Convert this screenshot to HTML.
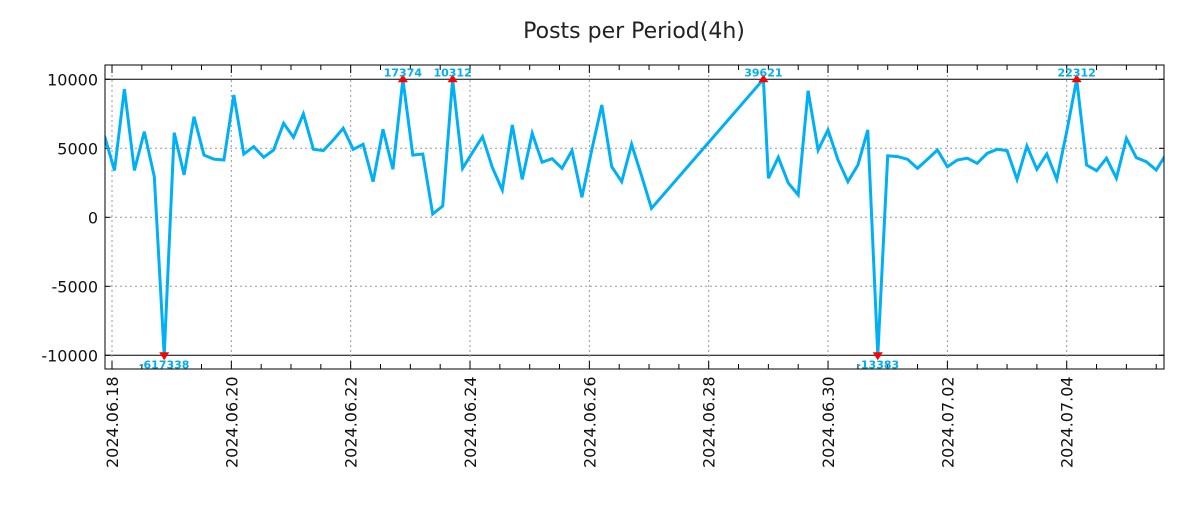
<!DOCTYPE html>
<html><head><meta charset="utf-8"><style>
body{margin:0;background:#fff;width:1200px;height:500px;overflow:hidden}
svg text{font-family:"DejaVu Sans","Liberation Sans",sans-serif}
</style></head><body>
<svg id="chart" width="1200" height="500" xmlns="http://www.w3.org/2000/svg">
<text x="634" y="38" text-anchor="middle" font-size="22" fill="#222">Posts per Period(4h)</text>
<defs><clipPath id="pc"><rect x="105" y="65" width="1059" height="304"/></clipPath></defs>
<g id="grid"></g><g id="axes"></g>
<g id="series" clip-path="url(#pc)"></g>
<g id="marks"></g>
<rect x="105" y="65" width="1059" height="304" fill="none" stroke="#000" stroke-width="1"/>
</svg>
<script>
// hours since 2024-06-18 00:00
const hoursA = [];
for (let k = 0; k <= 55; k++) hoursA.push(-3 + 4 * k);
const valuesA = [5900,3400,9300,3400,6200,2940,-617338,6130,3070,7290,4510,4220,4150,8860,4580,5120,4350,4880,6810,5800,7490,4930,4830,5600,6450,4930,5290,2580,6380,3480,17374,4510,4590,240,820,10312,3550,4700,5840,3600,1980,6690,2750,6090,3990,4250,3550,4830,1450,4900,8140,3670,2580,5290,3000,650];
const hoursPeak = [262];
const valuesPeak = [39621];
const hoursB = [];
for (let j = 0; j <= 40; j++) hoursB.push(264 + 4 * j);
const valuesB = [2830,4350,2480,1620,9170,4880,6330,4150,2580,3790,6330,-13383,4460,4400,4200,3550,4200,4880,3670,4150,4280,3910,4640,4930,4830,2750,5170,3480,4590,2750,6200,22312,3790,3380,4280,2830,5720,4320,4030,3430,4590];
const yTicks = [10000,5000,0,-5000,-10000];
const xTickLabels = ["2024.06.18","2024.06.20","2024.06.22","2024.06.24","2024.06.26","2024.06.28","2024.06.30","2024.07.02","2024.07.04"];
const clipMax = 10000;

const NS = "http://www.w3.org/2000/svg";
const xS = h => 112 + h * (59.67 / 24);
const yS = v => 217.3 - v * 0.0138;
function mk(tag, attrs, parent){const e=document.createElementNS(NS,tag);for(const k in attrs)e.setAttribute(k,attrs[k]);parent.appendChild(e);return e;}
const grid=document.getElementById('grid'), axes=document.getElementById('axes'), series=document.getElementById('series'), marks=document.getElementById('marks');

yTicks.forEach(v=>{
  const y=yS(v);
  const solid=Math.abs(v)===clipMax;
  const gl=mk('line',{x1:105,x2:1164,y1:y,y2:y,stroke:solid?'#000':'#999','stroke-width':1,'stroke-dasharray':solid?'':'2,3'},grid);
  
  
  mk('line',{x1:105,x2:110,y1:y,y2:y,stroke:'#000'},axes);
  mk('line',{x1:1159,x2:1164,y1:y,y2:y,stroke:'#000'},axes);
  const t=mk('text',{x:98,y:y+6,'text-anchor':'end','font-size':16,fill:'#111'},axes);
  t.textContent=v;
  
  
});
for(let h=0; xS(h)<1164; h+=12){
  const x=xS(h);
  const major=h%48===0;
  if(major){
    const gl=mk('line',{x1:x,x2:x,y1:65,y2:369,stroke:'#999','stroke-dasharray':'2,3'},grid);
    
    
  }
  const len=major?8:5;
  mk('line',{x1:x,x2:x,y1:369,y2:369-len,stroke:'#000'},axes);
  mk('line',{x1:x,x2:x,y1:65,y2:65+len,stroke:'#000'},axes);
}
xTickLabels.forEach((lab,i)=>{
  const x=xS(i*48);
  const t=mk('text',{transform:`translate(${x+6},468) rotate(-90)`,'font-size':16,fill:'#111'},axes);
  t.textContent=lab;
  
  
});

const hours=[...hoursA,...hoursPeak,...hoursB];
const vals=[...valuesA,...valuesPeak,...valuesB];
const clip=v=>Math.max(-clipMax,Math.min(clipMax,v));
const d=hours.map((h,i)=>(i?'L':'M')+xS(h).toFixed(1)+','+yS(clip(vals[i])).toFixed(1)).join(' ');
const line=mk('path',{d:d,fill:'none',stroke:'#00b0f6','stroke-width':3,'stroke-linejoin':'miter'},series);



vals.forEach((v,i)=>{
  if(Math.abs(v)<=clipMax) return;
  const x=xS(hours[i]), y=yS(clip(v));
  const up=v>0;
  const tri=mk('path',{d:up?`M${x-5},${y+3}L${x+5},${y+3}L${x},${y-5}Z`:`M${x-5},${y-3}L${x+5},${y-3}L${x},${y+5}Z`,fill:'#f00'},marks);
  
  
  const t=mk('text',{x:x,y:up?y-3:y+13,'text-anchor':'middle','font-size':11,'font-weight':'bold',fill:'#00aef0'},marks);
  t.textContent=String(v);
  
  
});
</script>
</body></html>
